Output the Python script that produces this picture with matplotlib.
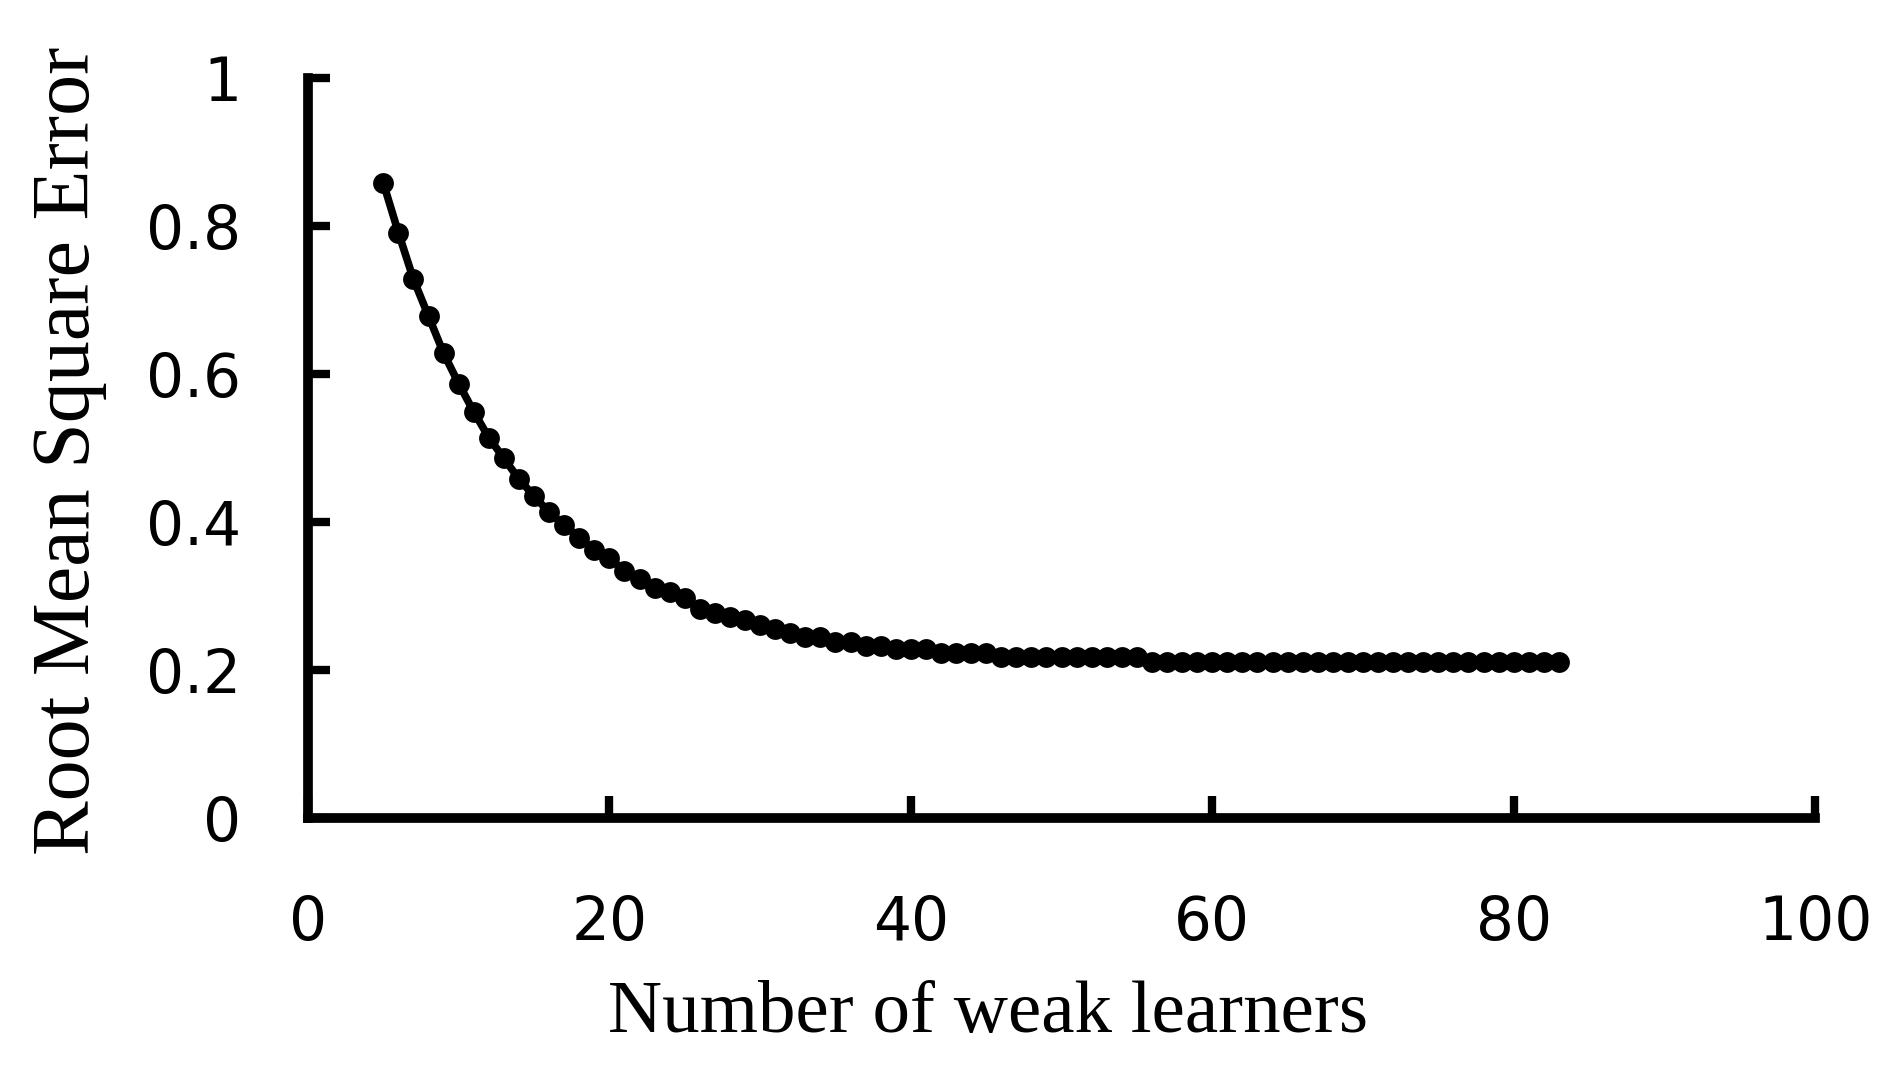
import numpy as np
import matplotlib
matplotlib.use("Agg")
import matplotlib.pyplot as plt

# number of weak learners on the x axis, one point per learner
n_learners = np.arange(5, 84)
rmse = [0.858, 0.791, 0.728, 0.678, 0.628, 0.587, 0.549, 0.514, 0.486, 0.458,
        0.435, 0.413, 0.396, 0.379, 0.362, 0.351, 0.334, 0.323, 0.311, 0.306,
        0.297, 0.283, 0.277, 0.272, 0.267, 0.261, 0.255, 0.250, 0.244, 0.244,
        0.238, 0.238, 0.233, 0.233, 0.228, 0.229, 0.229, 0.223, 0.223, 0.223,
        0.223,
        0.217, 0.217, 0.217, 0.217, 0.217, 0.217, 0.217, 0.217, 0.217, 0.217,
        0.211, 0.211, 0.211, 0.211, 0.211, 0.211, 0.211, 0.211, 0.211, 0.211,
        0.211, 0.211, 0.211, 0.211, 0.211, 0.211, 0.211, 0.211, 0.211, 0.211,
        0.211, 0.211, 0.211, 0.211, 0.211, 0.211, 0.211, 0.211]
x_ticks = [0, 20, 40, 60, 80, 100]
y_ticks = [0, 0.2, 0.4, 0.6, 0.8, 1]
y_tick_labels = ["0", "0.2", "0.4", "0.6", "0.8", "1"]


def make_plot():
    fig = plt.figure(figsize=(18.86, 10.70), dpi=100)
    ax = fig.add_axes([0.1633, 0.2355, 0.7991, 0.6916])

    ax.plot(n_learners, rmse, color="black", linewidth=5.5,
            marker="o", markersize=15, markeredgewidth=0, clip_on=False)

    ax.set_xlim(0, 100)
    ax.set_ylim(0, 1)
    ax.set_xticks(x_ticks)
    ax.set_yticks(y_ticks)
    ax.set_yticklabels(y_tick_labels)

    for side in ["top", "right"]:
        ax.spines[side].set_visible(False)
    for side in ["left", "bottom"]:
        ax.spines[side].set_linewidth(7)
        ax.spines[side].set_capstyle("projecting")

    ax.tick_params(axis="both", direction="in", length=16, width=6,
                   color="black")
    ax.tick_params(axis="x", pad=55, labelsize=43)
    ax.tick_params(axis="y", pad=48, labelsize=43)
    for lab in ax.get_xticklabels() + ax.get_yticklabels():
        lab.set_family("DejaVu Sans")

    ax.set_xlabel("Number of weak learners", family="Liberation Serif",
                  fontsize=54)
    ax.xaxis.label.set_va("baseline")
    ax.xaxis.set_label_coords(0.4515, -0.289)

    ax.set_ylabel("Root Mean Square Error", family="Liberation Serif",
                  fontsize=59, rotation=90, rotation_mode="anchor")
    ax.yaxis.label.set_va("baseline")
    ax.yaxis.label.set_ha("center")
    ax.yaxis.set_label_coords(-0.1454, 0.496)

    fig.savefig("out.png", dpi=100, facecolor="white")


if __name__ == "__main__":
    make_plot()
